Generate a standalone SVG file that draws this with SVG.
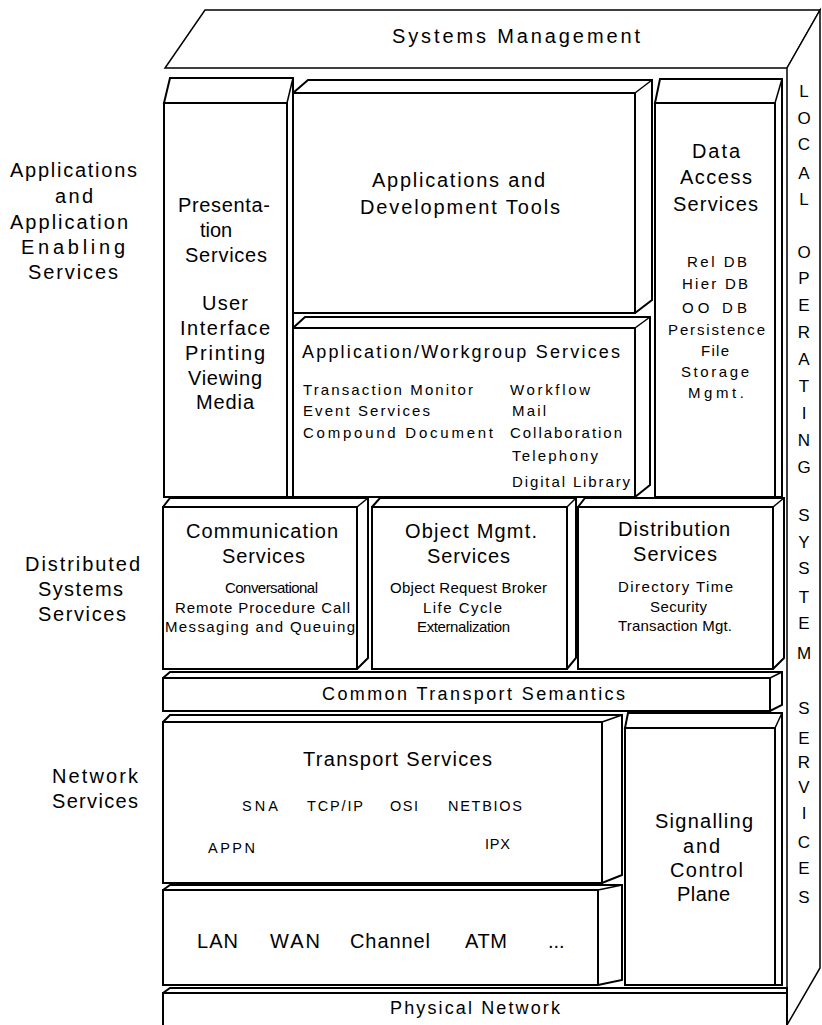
<svg xmlns="http://www.w3.org/2000/svg" width="822" height="1025" viewBox="0 0 822 1025">
<style>
.f{fill:#fff;stroke:#000;stroke-width:2;stroke-linejoin:miter}
.e{fill:#fff;stroke:#000;stroke-width:1.5}
.k{stroke:#000;stroke-width:1.5}
text{font-family:"Liberation Sans",Arial,sans-serif;fill:#000}
.b{font-size:20px}
.m{font-size:18px}
.s{font-size:15px}
.x{font-size:14.5px}
.c{text-anchor:middle}
.v{font-size:17px;text-anchor:middle}
</style>
<rect width="822" height="1025" fill="#fff"/>

<g id="cabinet">
<polygon class="e" points="205,10 820,10 787,68 165,68"/>
<polygon class="e" points="787,68 820,10 820,968 787,1025"/>
<text class="b" x="392" y="43" textLength="248" lengthAdjust="spacing">Systems Management</text>
<g id="los">
<text class="v" x="804" y="97">L</text>
<text class="v" x="804" y="124">O</text>
<text class="v" x="804" y="150">C</text>
<text class="v" x="804" y="179">A</text>
<text class="v" x="804" y="205">L</text>
<text class="v" x="804" y="258">O</text>
<text class="v" x="804" y="284">P</text>
<text class="v" x="804" y="311">E</text>
<text class="v" x="804" y="338">R</text>
<text class="v" x="804" y="365">A</text>
<text class="v" x="804" y="392">T</text>
<text class="v" x="804" y="419">I</text>
<text class="v" x="804" y="446">N</text>
<text class="v" x="804" y="473">G</text>
<text class="v" x="804" y="521">S</text>
<text class="v" x="804" y="548">Y</text>
<text class="v" x="804" y="574">S</text>
<text class="v" x="804" y="603">T</text>
<text class="v" x="804" y="629">E</text>
<text class="v" x="804" y="659">M</text>
<text class="v" x="804" y="714">S</text>
<text class="v" x="804" y="744">E</text>
<text class="v" x="804" y="768">R</text>
<text class="v" x="804" y="793">V</text>
<text class="v" x="804" y="819">I</text>
<text class="v" x="804" y="848">C</text>
<text class="v" x="804" y="874">E</text>
<text class="v" x="804" y="903">S</text>
</g>
</g>

<g id="labels">
<text class="b" x="10" y="177" textLength="127" lengthAdjust="spacing">Applications</text>
<text class="b" x="55" y="203" textLength="38" lengthAdjust="spacing">and</text>
<text class="b" x="10" y="229" textLength="118" lengthAdjust="spacing">Application</text>
<text class="b" x="21" y="254" textLength="104" lengthAdjust="spacing">Enabling</text>
<text class="b" x="28" y="279" textLength="90" lengthAdjust="spacing">Services</text>
<text class="b" x="25" y="571" textLength="115" lengthAdjust="spacing">Distributed</text>
<text class="b" x="38" y="596" textLength="85" lengthAdjust="spacing">Systems</text>
<text class="b" x="38" y="621" textLength="88" lengthAdjust="spacing">Services</text>
<text class="b" x="52" y="783" textLength="86" lengthAdjust="spacing">Network</text>
<text class="b" x="52" y="808" textLength="86" lengthAdjust="spacing">Services</text>
</g>

<g id="presentation">
<polygon class="f" points="164,103 170,78 293,78 293,497 287,497 287,103"/>
<line class="k" x1="287" y1="103" x2="293" y2="78"/>
<rect class="f" x="164" y="103" width="123" height="394"/>
<text class="b" x="178" y="212" textLength="92" lengthAdjust="spacing">Presenta-</text>
<text class="b c" x="216" y="237">tion</text>
<text class="b" x="185" y="262" textLength="82" lengthAdjust="spacing">Services</text>
<text class="b" x="202" y="310" textLength="46" lengthAdjust="spacing">User</text>
<text class="b" x="180" y="335" textLength="90" lengthAdjust="spacing">Interface</text>
<text class="b" x="185" y="360" textLength="80" lengthAdjust="spacing">Printing</text>
<text class="b" x="188" y="385" textLength="74" lengthAdjust="spacing">Viewing</text>
<text class="b" x="196" y="409" textLength="58" lengthAdjust="spacing">Media</text>
</g>

<g id="appdev">
<polygon class="f" points="293,93 308,80 652,80 652,300 635,313 293,313"/>
<line class="k" x1="635" y1="93" x2="652" y2="80"/>
<rect class="f" x="293" y="93" width="342" height="220"/>
<text class="b" x="372" y="187" textLength="173" lengthAdjust="spacing">Applications and</text>
<text class="b" x="360" y="214" textLength="200" lengthAdjust="spacing">Development Tools</text>
</g>

<g id="workgroup">
<polygon class="f" points="293,328 305,317 650,317 650,485 635,497 293,497"/>
<line class="k" x1="635" y1="328" x2="650" y2="317"/>
<rect class="f" x="293" y="328" width="342" height="169"/>
<text class="m" x="302" y="358" textLength="318" lengthAdjust="spacing">Application/Workgroup Services</text>
<text class="s" x="303" y="395" textLength="170" lengthAdjust="spacing">Transaction Monitor</text>
<text class="s" x="303" y="416" textLength="127" lengthAdjust="spacing">Event Services</text>
<text class="s" x="303" y="438" textLength="190" lengthAdjust="spacing">Compound Document</text>
<text class="s" x="510" y="395" textLength="80" lengthAdjust="spacing">Workflow</text>
<text class="s" x="512" y="416" textLength="34" lengthAdjust="spacing">Mail</text>
<text class="s" x="510" y="438" textLength="112" lengthAdjust="spacing">Collaboration</text>
<text class="s" x="512" y="461" textLength="86" lengthAdjust="spacing">Telephony</text>
<text class="s" x="512" y="487" textLength="118" lengthAdjust="spacing">Digital Library</text>
</g>

<g id="dataaccess">
<polygon class="f" points="655,103 660,79 782,79 782,497 775,497 775,103"/>
<line class="k" x1="775" y1="103" x2="782" y2="79"/>
<rect class="f" x="655" y="103" width="120" height="394"/>
<text class="b" x="692" y="158" textLength="48" lengthAdjust="spacing">Data</text>
<text class="b" x="680" y="184" textLength="72" lengthAdjust="spacing">Access</text>
<text class="b" x="673" y="211" textLength="85" lengthAdjust="spacing">Services</text>
<text class="s" x="687" y="267" textLength="60" lengthAdjust="spacing">Rel DB</text>
<text class="s" x="682" y="289" textLength="66" lengthAdjust="spacing">Hier DB</text>
<text class="s" x="682" y="313" textLength="65" lengthAdjust="spacing">OO DB</text>
<text class="s" x="668" y="335" textLength="97" lengthAdjust="spacing">Persistence</text>
<text class="s" x="701" y="356" textLength="28" lengthAdjust="spacing">File</text>
<text class="s" x="681" y="377" textLength="68" lengthAdjust="spacing">Storage</text>
<text class="s" x="688" y="398" textLength="56" lengthAdjust="spacing">Mgmt.</text>
</g>

<g id="communication">
<polygon class="f" points="163,507 170,498 368,498 368,658 357,669 163,669"/>
<line class="k" x1="357" y1="507" x2="368" y2="498"/>
<rect class="f" x="163" y="507" width="194" height="162"/>
<text class="b" x="186" y="538" textLength="152" lengthAdjust="spacing">Communication</text>
<text class="b" x="222" y="563" textLength="83" lengthAdjust="spacing">Services</text>
<text class="s" x="225" y="593" textLength="93" lengthAdjust="spacing">Conversational</text>
<text class="s" x="175" y="613" textLength="175" lengthAdjust="spacing">Remote Procedure Call</text>
<text class="s" x="165" y="632" textLength="190" lengthAdjust="spacing">Messaging and Queuing</text>
</g>

<g id="objectmgmt">
<polygon class="f" points="372,507 380,498 576,498 576,658 567,669 372,669"/>
<line class="k" x1="567" y1="507" x2="576" y2="498"/>
<rect class="f" x="372" y="507" width="195" height="162"/>
<text class="b" x="405" y="538" textLength="132" lengthAdjust="spacing">Object Mgmt.</text>
<text class="b" x="427" y="563" textLength="83" lengthAdjust="spacing">Services</text>
<text class="s" x="390" y="593" textLength="157" lengthAdjust="spacing">Object Request Broker</text>
<text class="s" x="423" y="613" textLength="79" lengthAdjust="spacing">Life Cycle</text>
<text class="s" x="417" y="632" textLength="93" lengthAdjust="spacing">Externalization</text>
</g>

<g id="distribution">
<polygon class="f" points="578,507 585,498 784,498 784,658 773,669 578,669"/>
<line class="k" x1="773" y1="507" x2="784" y2="498"/>
<rect class="f" x="578" y="507" width="195" height="162"/>
<text class="b" x="618" y="536" textLength="112" lengthAdjust="spacing">Distribution</text>
<text class="b" x="633" y="561" textLength="84" lengthAdjust="spacing">Services</text>
<text class="s" x="618" y="592" textLength="115" lengthAdjust="spacing">Directory   Time</text>
<text class="s" x="650" y="612" textLength="57" lengthAdjust="spacing">Security</text>
<text class="s" x="618" y="631" textLength="114" lengthAdjust="spacing">Transaction Mgt.</text>
</g>

<g id="cts">
<polygon class="f" points="163,678 170,672 782,672 782,705 770,711 163,711"/>
<line class="k" x1="770" y1="678" x2="782" y2="672"/>
<rect class="f" x="163" y="678" width="607" height="33"/>
<text class="m" x="322" y="700" textLength="303" lengthAdjust="spacing">Common Transport Semantics</text>
</g>

<g id="transport">
<polygon class="f" points="163,722 170,715 622,715 622,875 602,883 163,883"/>
<line class="k" x1="602" y1="722" x2="622" y2="715"/>
<rect class="f" x="163" y="722" width="439" height="161"/>
<text class="b" x="303" y="766" textLength="189" lengthAdjust="spacing">Transport Services</text>
<text class="x" x="242" y="811" textLength="36" lengthAdjust="spacing">SNA</text>
<text class="x" x="307" y="811" textLength="56" lengthAdjust="spacing">TCP/IP</text>
<text class="x" x="390" y="811" textLength="28" lengthAdjust="spacing">OSI</text>
<text class="x" x="448" y="811" textLength="74" lengthAdjust="spacing">NETBIOS</text>
<text class="x" x="208" y="853" textLength="47" lengthAdjust="spacing">APPN</text>
<text class="x" x="485" y="849" textLength="25" lengthAdjust="spacing">IPX</text>
</g>

<g id="subnet">
<polygon class="f" points="163,890 170,885 622,885 622,980 598,985 163,985"/>
<line class="k" x1="598" y1="890" x2="622" y2="885"/>
<rect class="f" x="163" y="890" width="435" height="95"/>
<text class="b" x="197" y="948" textLength="41" lengthAdjust="spacing">LAN</text>
<text class="b" x="270" y="948" textLength="50" lengthAdjust="spacing">WAN</text>
<text class="b" x="350" y="948" textLength="80" lengthAdjust="spacing">Channel</text>
<text class="b" x="465" y="948" textLength="42" lengthAdjust="spacing">ATM</text>
<text class="b" x="548" y="948">...</text>
</g>

<g id="signalling">
<polygon class="f" points="625,728 628,713 782,713 782,985 775,985 775,728"/>
<line class="k" x1="775" y1="728" x2="782" y2="713"/>
<rect class="f" x="625" y="728" width="150" height="257"/>
<text class="b" x="655" y="828" textLength="98" lengthAdjust="spacing">Signalling</text>
<text class="b" x="683" y="853" textLength="37" lengthAdjust="spacing">and</text>
<text class="b" x="670" y="877" textLength="73" lengthAdjust="spacing">Control</text>
<text class="b" x="677" y="901" textLength="53" lengthAdjust="spacing">Plane</text>
</g>

<g id="physical">
<polygon class="f" points="163,993 170,988 787,988 787,1030 163,1030"/>
<rect class="f" x="163" y="993" width="624" height="40"/>
<text class="m" x="390" y="1014" textLength="170" lengthAdjust="spacing">Physical Network</text>
</g>

<g id="connectors"/>
</svg>
